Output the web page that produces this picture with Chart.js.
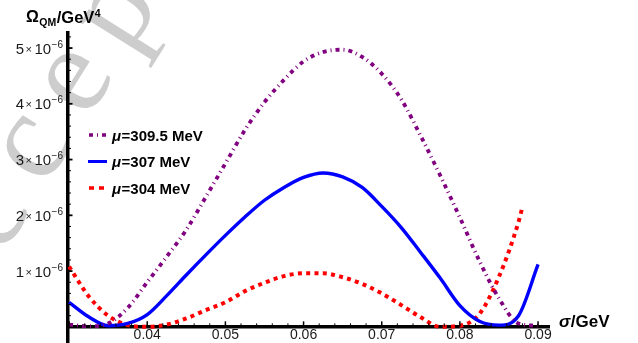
<!DOCTYPE html>
<html>
<head>
<meta charset="utf-8">
<script src="https://cdn.jsdelivr.net/npm/chart.js@4/dist/chart.umd.min.js"></script>
<style>
  html, body { margin: 0; padding: 0; background: #fff; }
  #wrap { width: 638px; height: 343px; }
</style>
</head>
<body>
<div id="wrap"><canvas id="omegaChart" width="638" height="343"></canvas></div>
<script>
// sigma in GeV, Omega_QM in units of 1e-6 GeV^4
const sigma = [0.030, 0.0325, 0.035, 0.0375, 0.040, 0.0425, 0.045, 0.0475, 0.050, 0.0525,
  0.055, 0.0575, 0.060, 0.0625, 0.065, 0.0675, 0.070, 0.0725, 0.075, 0.0775,
  0.080, 0.0825, 0.085, 0.0875, 0.090];
const omegaMu3095 = [0.04, 0.01, 0.06, 0.34, 0.80, 1.26, 1.74, 2.33, 2.93, 3.53,
  4.03, 4.43, 4.76, 4.93, 4.97, 4.84, 4.54, 4.08, 3.42, 2.71,
  1.96, 1.18, 0.51, 0.06, 0.02];
const omegaMu307 = [0.44, 0.18, 0.02, 0.06, 0.22, 0.56, 0.93, 1.29, 1.64, 1.97,
  2.27, 2.50, 2.68, 2.76, 2.69, 2.50, 2.16, 1.78, 1.33, 0.87,
  0.38, 0.10, 0.03, 0.20, 1.12];
const sigmaMu304 = [0.030, 0.0325, 0.035, 0.0375, 0.040, 0.0425, 0.045, 0.0475, 0.050, 0.0525,
  0.055, 0.0575, 0.060, 0.0625, 0.065, 0.0675, 0.070, 0.0725, 0.075, 0.0775,
  0.080, 0.0825, 0.085, 0.0875, 0.088];
const omegaMu304 = [1.08, 0.55, 0.20, 0.03, 0.00, 0.04, 0.15, 0.30, 0.44, 0.64,
  0.79, 0.91, 0.96, 0.96, 0.89, 0.77, 0.60, 0.39, 0.17, 0.00,
  0.02, 0.23, 0.90, 1.88, 2.15];

const xTickValues = [0.04, 0.05, 0.06, 0.07, 0.08, 0.09];
const yTickValues = [1, 2, 3, 4, 5];
const legendLabels = ['=309.5 MeV', '=307 MeV', '=304 MeV'];

const PURPLE = '#800080', BLUE = '#0000ff', RED = '#ff0000';
const dashes = [[4, 4, 1, 4], [], [4, 4.3]];
const colors = [PURPLE, BLUE, RED];

function pts(xs, ys) {
  return xs.map((x, i) => ({ x: x, y: ys[i] }));
}

const decor = {
  id: 'decor',
  beforeDraw(chart) {
    const ctx = chart.ctx;
    ctx.save();
    ctx.fillStyle = '#fff';
    ctx.fillRect(0, 0, chart.width, chart.height);
    // watermark, one glyph at a time along a diagonal
    ctx.font = '125px "Liberation Serif"';
    ctx.fillStyle = '#cdcdcd';
    ctx.textAlign = 'center';
    ctx.textBaseline = 'alphabetic';
    const ang = -58 * Math.PI / 180;
    const dx = Math.cos(ang), dy = Math.sin(ang);
    const word = 'Accepted';
    for (let i = 0; i < word.length; i++) {
      const k = i - 2;
      const cx = 36 + k * 80 * dx, cy = 150 + k * 80 * dy;
      ctx.save();
      ctx.translate(cx, cy);
      ctx.rotate(ang);
      ctx.fillText(word[i], 0, 0.22 * 125);
      ctx.restore();
    }
    ctx.restore();
  },
  afterDraw(chart) {
    const ctx = chart.ctx;
    const xs = chart.scales.x, ys = chart.scales.y;
    const x0 = xs.left, y0 = ys.getPixelForValue(0);
    ctx.save();
    ctx.strokeStyle = '#000';
    // x ticks (inward)
    for (let k = 0; k <= 30; k++) {
      const v = 0.03 + k * 0.002;
      const px = xs.getPixelForValue(v);
      const major = k % 5 === 0;
      ctx.lineWidth = major ? 1.5 : 1;
      ctx.beginPath();
      ctx.moveTo(px, y0);
      ctx.lineTo(px, y0 - (major ? 5.5 : 3.5));
      ctx.stroke();
    }
    // y ticks (inward)
    for (let k = 1; k <= 26; k++) {
      const v = k * 0.2;
      const py = ys.getPixelForValue(v);
      const major = k % 5 === 0;
      ctx.lineWidth = major ? 1.8 : 1;
      ctx.beginPath();
      ctx.moveTo(x0, py);
      ctx.lineTo(x0 + (major ? 5 : 3.5), py);
      ctx.stroke();
    }
    // y tick labels  n x 10^-6
    ctx.fillStyle = '#1a1a1a';
    ctx.textBaseline = 'alphabetic';
    yTickValues.forEach(v => {
      const py = ys.getPixelForValue(v);
      ctx.textAlign = 'right';
      ctx.font = '10px "Liberation Sans"';
      const sup = '\u22126';
      ctx.fillText(sup, 63, py - 0.5);
      const sw = ctx.measureText(sup).width;
      ctx.font = '15px "Liberation Sans"';
      ctx.fillText('10', 63 - sw - 0.5, py + 5.5);
      const tw = ctx.measureText('10').width;
      ctx.font = '11px "Liberation Sans"';
      ctx.fillText('\u00d7', 63 - sw - tw - 3, py + 4.5);
      const mw = ctx.measureText('\u00d7').width;
      ctx.font = '15px "Liberation Sans"';
      ctx.fillText(String(v), 63 - sw - tw - mw - 4.5, py + 5.5);
    });
    // axis titles
    ctx.fillStyle = '#000';
    ctx.textAlign = 'left';
    let x = 26;
    ctx.font = 'bold 16px "Liberation Sans"';
    ctx.fillText('\u03a9', x, 22); x += ctx.measureText('\u03a9').width + 0.5;
    ctx.font = 'bold 10.5px "Liberation Sans"';
    ctx.fillText('QM', x, 25.5); x += ctx.measureText('QM').width + 0.5;
    ctx.font = 'bold 16.5px "Liberation Sans"';
    ctx.fillText('/GeV', x, 22.5); x += ctx.measureText('/GeV').width + 0.5;
    ctx.font = 'bold 10.5px "Liberation Sans"';
    ctx.fillText('4', x, 17);

    x = 559;
    ctx.font = 'italic bold 17px "Liberation Sans"';
    ctx.fillText('\u03c3', x, 327); x += ctx.measureText('\u03c3').width + 0.5;
    ctx.font = 'bold 17px "Liberation Sans"';
    ctx.fillText('/GeV', x, 327);

    // legend
    const rows = [135, 161.5, 188];
    rows.forEach((ry, i) => {
      ctx.strokeStyle = colors[i];
      ctx.lineWidth = i === 1 ? 3 : 3.5;
      ctx.setLineDash(i === 2 ? [5, 5] : dashes[i]);
      ctx.lineCap = 'butt';
      ctx.beginPath();
      ctx.moveTo(i === 1 ? 88 : 89, ry);
      ctx.lineTo(107, ry);
      ctx.stroke();
      ctx.setLineDash([]);
      let tx = 112;
      ctx.fillStyle = '#000';
      ctx.font = 'italic bold 15px "Liberation Sans"';
      ctx.fillText('\u03bc', tx, ry + 5.5);
      tx += ctx.measureText('\u03bc').width + 0.5;
      ctx.font = 'bold 15px "Liberation Sans"';
      ctx.fillText(legendLabels[i], tx, ry + 5.5);
    });
    ctx.restore();
  }
};

new Chart(document.getElementById('omegaChart'), {
  type: 'line',
  data: {
    datasets: [
      { label: 'mu=309.5 MeV', data: pts(sigma, omegaMu3095), borderColor: PURPLE,
        borderWidth: 3.8, borderDash: dashes[0], borderCapStyle: 'butt' },
      { label: 'mu=307 MeV', data: pts(sigma, omegaMu307), borderColor: BLUE,
        borderWidth: 3.4, borderDash: dashes[1] },
      { label: 'mu=304 MeV', data: pts(sigmaMu304, omegaMu304), borderColor: RED,
        borderWidth: 4, borderDash: dashes[2], borderCapStyle: 'butt' }
    ]
  },
  options: {
    responsive: false,
    animation: false,
    devicePixelRatio: 1,
    elements: { point: { radius: 0 }, line: { cubicInterpolationMode: 'monotone', fill: false } },
    layout: { padding: { left: 0, top: 33, right: 89, bottom: 0 } },
    plugins: { legend: { display: false }, tooltip: { enabled: false } },
    scales: {
      x: {
        type: 'linear',
        min: 0.0298,
        max: 0.0914,
        position: { y: 0 },
        afterFit: (scale) => { scale.height = 6; },
        grid: { display: false, drawTicks: false },
        border: { display: true, color: '#000', width: 3.5 },
        ticks: {
          stepSize: 0.01,
          includeBounds: false,
          autoSkip: false,
          maxRotation: 0,
          padding: 0,
          color: '#1a1a1a',
          font: { family: 'Liberation Sans', size: 14 },
          callback: (v) => {
            const t = xTickValues.find(tv => Math.abs(tv - v) < 1e-6);
            return t === undefined ? '' : t.toFixed(2);
          }
        }
      },
      y: {
        type: 'linear',
        min: -0.29,
        max: 5.27,
        afterFit: (scale) => { scale.width = 67.5; },
        grid: { display: false, drawTicks: false },
        border: { display: true, color: '#000', width: 3.5 },
        ticks: { display: false, stepSize: 1, includeBounds: false }
      }
    }
  },
  plugins: [decor]
});
</script>
</body>
</html>
